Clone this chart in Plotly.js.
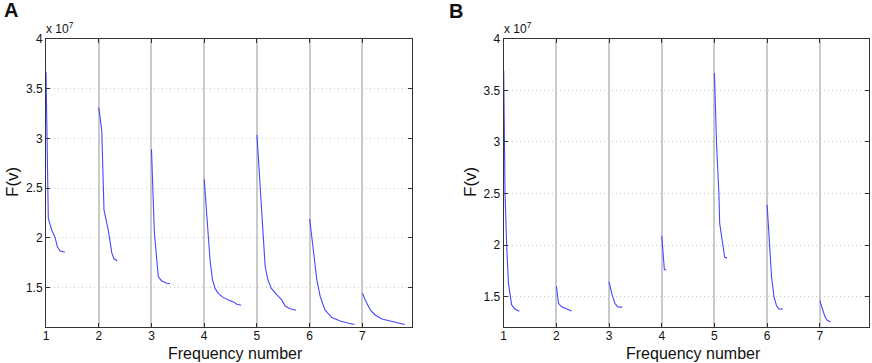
<!DOCTYPE html>
<html>
<head>
<meta charset="utf-8">
<script src="https://cdn.plot.ly/plotly-3.0.1.min.js"></script>
<style>
  html, body { margin: 0; padding: 0; background: #fff; }
  #graph { width: 872px; height: 363px; }
</style>
</head>
<body>
<div id="graph"></div>
<script>
// F(v) values are in units of 1e7 (the axis multiplier)
var aFreq = [
  [1.0, 1.02, 1.044, 1.108, 1.17, 1.215, 1.266, 1.36],
  [2.0, 2.057, 2.10, 2.18, 2.25, 2.29, 2.35],
  [3.0, 3.055, 3.13, 3.19, 3.29, 3.35],
  [4.0, 4.068, 4.11, 4.156, 4.207, 4.27, 4.365, 4.46, 4.554, 4.62, 4.70],
  [5.0, 5.06, 5.11, 5.156, 5.207, 5.27, 5.38, 5.47, 5.535, 5.63, 5.74],
  [6.0, 6.04, 6.09, 6.135, 6.20, 6.29, 6.42, 6.58, 6.74, 6.85],
  [7.0, 7.066, 7.15, 7.24, 7.37, 7.53, 7.685, 7.80]
];
var aF = [
  [3.67, 2.85, 2.197, 2.08, 2.01, 1.91, 1.87, 1.855],
  [3.31, 3.08, 2.28, 2.08, 1.845, 1.79, 1.77],
  [2.89, 2.05, 1.61, 1.57, 1.545, 1.54],
  [2.59, 2.11, 1.78, 1.58, 1.49, 1.44, 1.40, 1.377, 1.357, 1.333, 1.323],
  [3.033, 2.51, 2.01, 1.71, 1.58, 1.495, 1.427, 1.377, 1.316, 1.289, 1.273],
  [2.19, 2.01, 1.78, 1.58, 1.41, 1.276, 1.20, 1.166, 1.143, 1.13],
  [1.444, 1.36, 1.276, 1.226, 1.186, 1.163, 1.14, 1.13]
];
var bFreq = [
  [1.0, 1.025, 1.057, 1.09, 1.15, 1.21, 1.296],
  [2.0, 2.04, 2.10, 2.195, 2.29],
  [3.0, 3.05, 3.11, 3.165, 3.25],
  [4.0, 4.03, 4.05, 4.09],
  [5.0, 5.04, 5.085, 5.10, 5.145, 5.195, 5.24],
  [6.0, 6.04, 6.085, 6.13, 6.18, 6.225, 6.295],
  [7.0, 7.05, 7.095, 7.14, 7.205]
];
var bF = [
  [3.69, 2.50, 1.99, 1.63, 1.42, 1.38, 1.357],
  [1.60, 1.435, 1.40, 1.378, 1.36],
  [1.646, 1.53, 1.435, 1.40, 1.398],
  [2.09, 1.89, 1.76, 1.76],
  [3.667, 2.99, 2.50, 2.21, 2.05, 1.88, 1.875],
  [2.39, 2.02, 1.69, 1.50, 1.41, 1.38, 1.378],
  [1.46, 1.37, 1.31, 1.27, 1.253]
];
var xTicks = [1, 2, 3, 4, 5, 6, 7];
var yTicks = [1.5, 2, 2.5, 3, 3.5, 4];
var xRange = [1, 7.94];
var yRangeA = [1.1, 4];
var yRangeB = [1.2, 4];

var font = "Liberation Sans, Arial, sans-serif";
var lineColor = "rgb(70,70,255)";

function makeTraces(xs, ys, xa, ya) {
  var out = [];
  for (var i = 0; i < xs.length; i++) {
    out.push({
      x: xs[i],
      y: ys[i],
      xaxis: xa,
      yaxis: ya,
      mode: "lines",
      line: { color: lineColor, width: 1.1 },
      hoverinfo: "skip",
      showlegend: false,
    });
  }
  return out;
}

function xAxis(domain, anchor) {
  return {
    domain: domain,
    anchor: anchor,
    range: xRange,
    tickvals: xTicks,
    ticktext: xTicks.map(String),
    ticks: "inside",
    ticklen: 4,
    tickcolor: "#333",
    ticklabelstandoff: -3,
    showline: true,
    linecolor: "#333",
    linewidth: 1,
    mirror: "ticks",
    showgrid: true,
    gridcolor: "#cacaca",
    gridwidth: 2,
    zeroline: false,
    tickfont: { family: font, size: 12, color: "#111" },
    fixedrange: true,
  };
}

function yAxis(domain, anchor, range) {
  return {
    domain: domain,
    anchor: anchor,
    range: range,
    tickvals: yTicks,
    ticktext: yTicks.map(String),
    ticks: "inside",
    ticklen: 4,
    tickcolor: "#333",
    showline: true,
    linecolor: "#333",
    linewidth: 1,
    mirror: "ticks",
    showgrid: true,
    gridcolor: "#c8c8c8",
    gridwidth: 1,
    griddash: "1px,3px",
    zeroline: false,
    tickfont: { family: font, size: 12, color: "#111" },
    fixedrange: true,
  };
}

var yDom = [0.0978, 0.8931];
var data = makeTraces(aFreq, aF, "x", "y").concat(makeTraces(bFreq, bF, "x2", "y2"));

function note(text, px, py, size, extra) {
  var a = {
    text: text,
    x: px / 872,
    y: 1 - py / 363,
    xanchor: "center",
    yanchor: "middle",
    xref: "paper",
    yref: "paper",
    showarrow: false,
    borderpad: 0,
    font: { family: font, size: size, color: "#111" },
  };
  for (var k in extra) a[k] = extra[k];
  return a;
}

var layout = {
  width: 872,
  height: 363,
  margin: { l: 0, r: 0, t: 0, b: 0 },
  paper_bgcolor: "#fff",
  plot_bgcolor: "#fff",
  showlegend: false,
  xaxis: xAxis([0.05275, 0.47248], "y"),
  yaxis: yAxis(yDom, "x", yRangeA),
  xaxis2: xAxis([0.57764, 0.9969], "y2"),
  yaxis2: yAxis(yDom, "x2", yRangeB),
  annotations: [
    note("<b>A</b>", 3, 10, 20, { xanchor: "left" }),
    note("<b>B</b>", 448, 10.5, 20, { xanchor: "left" }),
    note("x 10<sup>7</sup>", 45, 28, 12, { xanchor: "left" }),
    note("x 10<sup>7</sup>", 503, 28, 12, { xanchor: "left" }),
    note("Frequency number", 235, 353.5, 16),
    note("Frequency number", 693, 353.5, 16),
    note("F(v)", 13, 182, 17, { textangle: -90 }),
    note("F(v)", 471, 182, 17, { textangle: -90 }),
  ],
};

Plotly.newPlot("graph", data, layout, { displayModeBar: false, staticPlot: true });
</script>
</body>
</html>
